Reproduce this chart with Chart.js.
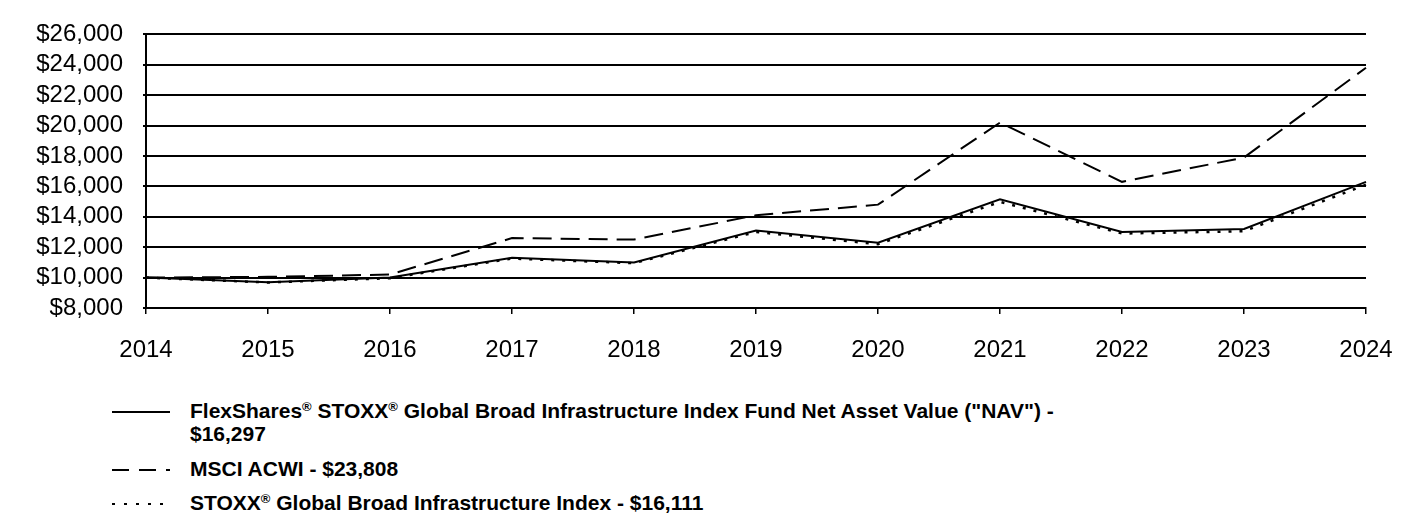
<!DOCTYPE html>
<html>
<head>
<meta charset="utf-8">
<script src="https://cdn.jsdelivr.net/npm/chart.js@4/dist/chart.umd.min.js"></script>
<style>
  html, body { margin: 0; padding: 0; background: #fff; }
  body { width: 1416px; height: 516px; position: relative; overflow: hidden; font-family: "Liberation Sans", Arial, sans-serif; }
  #wrap { position: absolute; left: 0; top: 0; width: 1416px; height: 380px; }
  .legend { position: absolute; left: 0; top: 397px; width: 1416px; }
  .item { position: absolute; left: 112px; font-weight: bold; font-size: 21px; line-height: 23px; color: #000; white-space: nowrap; }
  .item svg { position: absolute; left: 0; top: 8px; }
  .item span { display: block; margin-left: 78px; }
  sup { font-size: 13px; vertical-align: 7px; line-height: 0; }
</style>
</head>
<body>
<div id="wrap"><canvas id="growthChart"></canvas></div>
<div class="legend">
  <div class="item" style="top:2px"><svg width="60" height="10"><line x1="0" y1="5" x2="58" y2="5" stroke="#000" stroke-width="2"/></svg><span>FlexShares<sup>®</sup> STOXX<sup>®</sup> Global Broad Infrastructure Index Fund Net Asset Value ("NAV") -<br>$16,297</span></div>
  <div class="item" style="top:60px"><svg width="60" height="10"><line x1="0" y1="5" x2="58" y2="5" stroke="#000" stroke-width="2" stroke-dasharray="17,10"/></svg><span>MSCI ACWI - $23,808</span></div>
  <div class="item" style="top:94px"><svg width="60" height="10"><line x1="0" y1="5" x2="58" y2="5" stroke="#000" stroke-width="2" stroke-dasharray="3,9"/></svg><span>STOXX<sup>®</sup> Global Broad Infrastructure Index - $16,111</span></div>
</div>
<script>
"use strict";

// Data
const years = ['2014', '2015', '2016', '2017', '2018', '2019', '2020', '2021', '2022', '2023', '2024'];
const navValues = [10000, 9700, 10000, 11300, 11000, 13100, 12300, 15150, 13000, 13200, 16297];
const msciValues = [10000, 10050, 10200, 12600, 12500, 14100, 14800, 20200, 16300, 17900, 23808];
const stoxxValues = [10000, 9680, 9960, 11250, 10950, 13000, 12200, 14980, 12900, 13050, 16111];
const yTicks = [8000, 10000, 12000, 14000, 16000, 18000, 20000, 22000, 24000, 26000];

const fmtDollar = v => '$' + v.toLocaleString('en-US');
const axisFont = { family: '"Liberation Sans", Arial, sans-serif', size: 24 };

const ctx = document.getElementById('growthChart').getContext('2d');
const chart = new Chart(ctx, {
    type: 'line',
    data: {
        labels: years,
        datasets: [
            {
                label: 'NAV',
                data: navValues,
                borderColor: '#000',
                borderWidth: 2,
                pointRadius: 0,
                tension: 0
            },
            {
                label: 'MSCI ACWI',
                data: msciValues,
                borderColor: '#000',
                borderWidth: 2,
                borderDash: [19, 9],
                pointRadius: 0,
                tension: 0
            },
            {
                label: 'STOXX Index',
                data: stoxxValues,
                borderColor: '#000',
                borderWidth: 2.5,
                borderDash: [3, 8],
                pointRadius: 0,
                tension: 0
            }
        ]
    },
    options: {
        responsive: true,
        maintainAspectRatio: false,
        animation: false,
        layout: { padding: { top: 34, right: 50, left: 0, bottom: 0 } },
        plugins: {
            legend: { display: false },
            tooltip: { enabled: false }
        },
        scales: {
            x: {
                offset: false,
                grid: { drawOnChartArea: false, drawTicks: true, tickLength: 6, color: '#000', lineWidth: 1.5 },
                border: { display: true, color: '#000', width: 2 },
                ticks: { color: '#000', padding: 22, maxRotation: 0, autoSkip: false, font: axisFont },
                afterFit: scale => { scale.height = 72; }
            },
            y: {
                min: 8000,
                max: 26000,
                afterBuildTicks: scale => { scale.ticks = yTicks.map(v => ({ value: v })); },
                grid: { color: '#000', lineWidth: 2, drawTicks: true, tickLength: 3 },
                border: { display: true, color: '#000', width: 2 },
                ticks: { color: '#000', padding: 20, autoSkip: false, font: axisFont, callback: v => fmtDollar(v) },
                afterFit: scale => { scale.width = 146; }
            }
        }
    }
});
</script>
</body>
</html>
